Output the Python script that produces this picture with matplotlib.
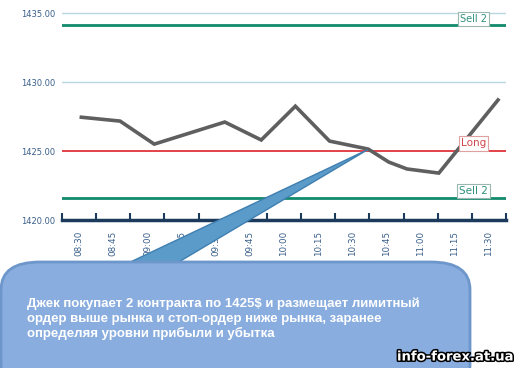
import matplotlib
matplotlib.use("Agg")
import matplotlib.pyplot as plt
import matplotlib.patheffects as pe
from matplotlib.patches import FancyBboxPatch, Polygon

# time slots on the x axis
slot_labels = ["08:30", "08:45", "09:00", "09:15", "09:30", "09:45", "10:00",
               "10:15", "10:30", "10:45", "11:00", "11:15", "11:30"]

# price path: time in minutes after 08:30, price
price_minutes = [1, 18, 33, 64, 80, 95, 110, 127, 136, 144, 158, 184]
price_values = [1427.45, 1427.17, 1425.5, 1427.1, 1425.8, 1428.25,
                1425.72, 1425.14, 1424.2, 1423.7, 1423.4, 1428.7]

long_level = 1425.0
sell_levels = [1434.15, 1421.6]
y_ticks = [1420, 1425, 1430, 1435]

note_text = ("Джек покупает 2 контракта по 1425$ и размещает лимитный\n"
             "ордер выше рынка и стоп-ордер ниже рынка, заранее\n"
             "определяя уровни прибыли и убытка")
watermark = "info-forex.at.ua"

W, H = 520, 368
fig = plt.figure(figsize=(W / 100, H / 100), dpi=100)
ax = fig.add_axes([62 / W, 1 - 220 / H, 444 / W, 209 / H])

slots = [m / 15 for m in price_minutes]

ax.set_xlim(-0.5, len(slot_labels) - 0.5)
ax.set_ylim(1420, 1435.15)

for y in (1430, 1435):
    ax.axhline(y, color="#b9d7df", lw=1, zorder=1)
ax.axhline(long_level, color="#e0343c", lw=1.3, zorder=2)
for y in sell_levels:
    ax.axhline(y, color="#138a6c", lw=2, zorder=2)

ax.plot(slots, price_values, color="#5f5f5f", lw=2.6, zorder=3,
        solid_joinstyle="miter")

box_kw = dict(boxstyle="square,pad=0.2", fc="white", lw=0.8)
ax.text(11.55, sell_levels[0] + 0.45, "Sell 2", color="#2f8f7a", fontsize=7,
        ha="center", va="center", bbox=dict(ec="#9ab8b0", **box_kw), zorder=4)
ax.text(11.55, long_level + 0.55, "Long", color="#d0444a", fontsize=7.5,
        ha="center", va="center", bbox=dict(ec="#e0a0a0", **box_kw), zorder=4)
ax.text(11.55, sell_levels[1] + 0.5, "Sell 2", color="#2f8f7a", fontsize=7.5,
        ha="center", va="center", bbox=dict(ec="#9ab8b0", **box_kw), zorder=4)

ax.set_yticks(y_ticks)
ax.set_yticklabels([f"{v:.2f}" for v in y_ticks])
ax.set_xticks(range(len(slot_labels)))
ax.set_xticklabels(slot_labels, rotation=90)
ax.set_xticks([i - 0.5 for i in range(len(slot_labels) + 1)], minor=True)
ax.tick_params(axis="x", which="major", length=0, pad=8, labelsize=6.3,
               labelcolor="#3a5f8a")
ax.tick_params(axis="x", which="minor", direction="in", length=5, width=1.5,
               color="#1b3a5c")
ax.tick_params(axis="y", length=0, pad=5, labelsize=6,
               labelcolor="#3a5f8a")

for s in ("top", "right", "left"):
    ax.spines[s].set_visible(False)
ax.spines["bottom"].set_color("#1b3a5c")
ax.spines["bottom"].set_linewidth(2.5)

# callout bubble with pointer to the entry point
tip = fig.transFigure.inverted().transform(
    ax.transData.transform((8.45, long_level + 0.1)))
wedge = Polygon([(122 / W, 1 - 266 / H), tip, (172 / W, 1 - 266 / H)],
                closed=True, transform=fig.transFigure, fc="#5b9bc9",
                ec="#3f7fb0", lw=1, zorder=5)
fig.add_artist(wedge)
bubble = FancyBboxPatch((1 / W, 1 - 392 / H), 469 / W, 130 / H,
                        boxstyle="round,pad=0,rounding_size=0.075",
                        transform=fig.transFigure, fc="#89addf",
                        ec="#6d96ca", lw=2, zorder=6)
fig.add_artist(bubble)

fig.text(27 / W, 1 - 319 / H, note_text, color="white", fontsize=9.5,
         fontweight="bold", family="Liberation Sans", va="center", ha="left",
         linespacing=1.25, zorder=7)

fig.text(515 / W, 1 - 357 / H, watermark, color="white", fontsize=9.5,
         fontweight="bold", family="DejaVu Sans", ha="right", va="center",
         zorder=8, path_effects=[pe.withStroke(linewidth=2.2, foreground="black")])

fig.savefig("out.png", dpi=100)
